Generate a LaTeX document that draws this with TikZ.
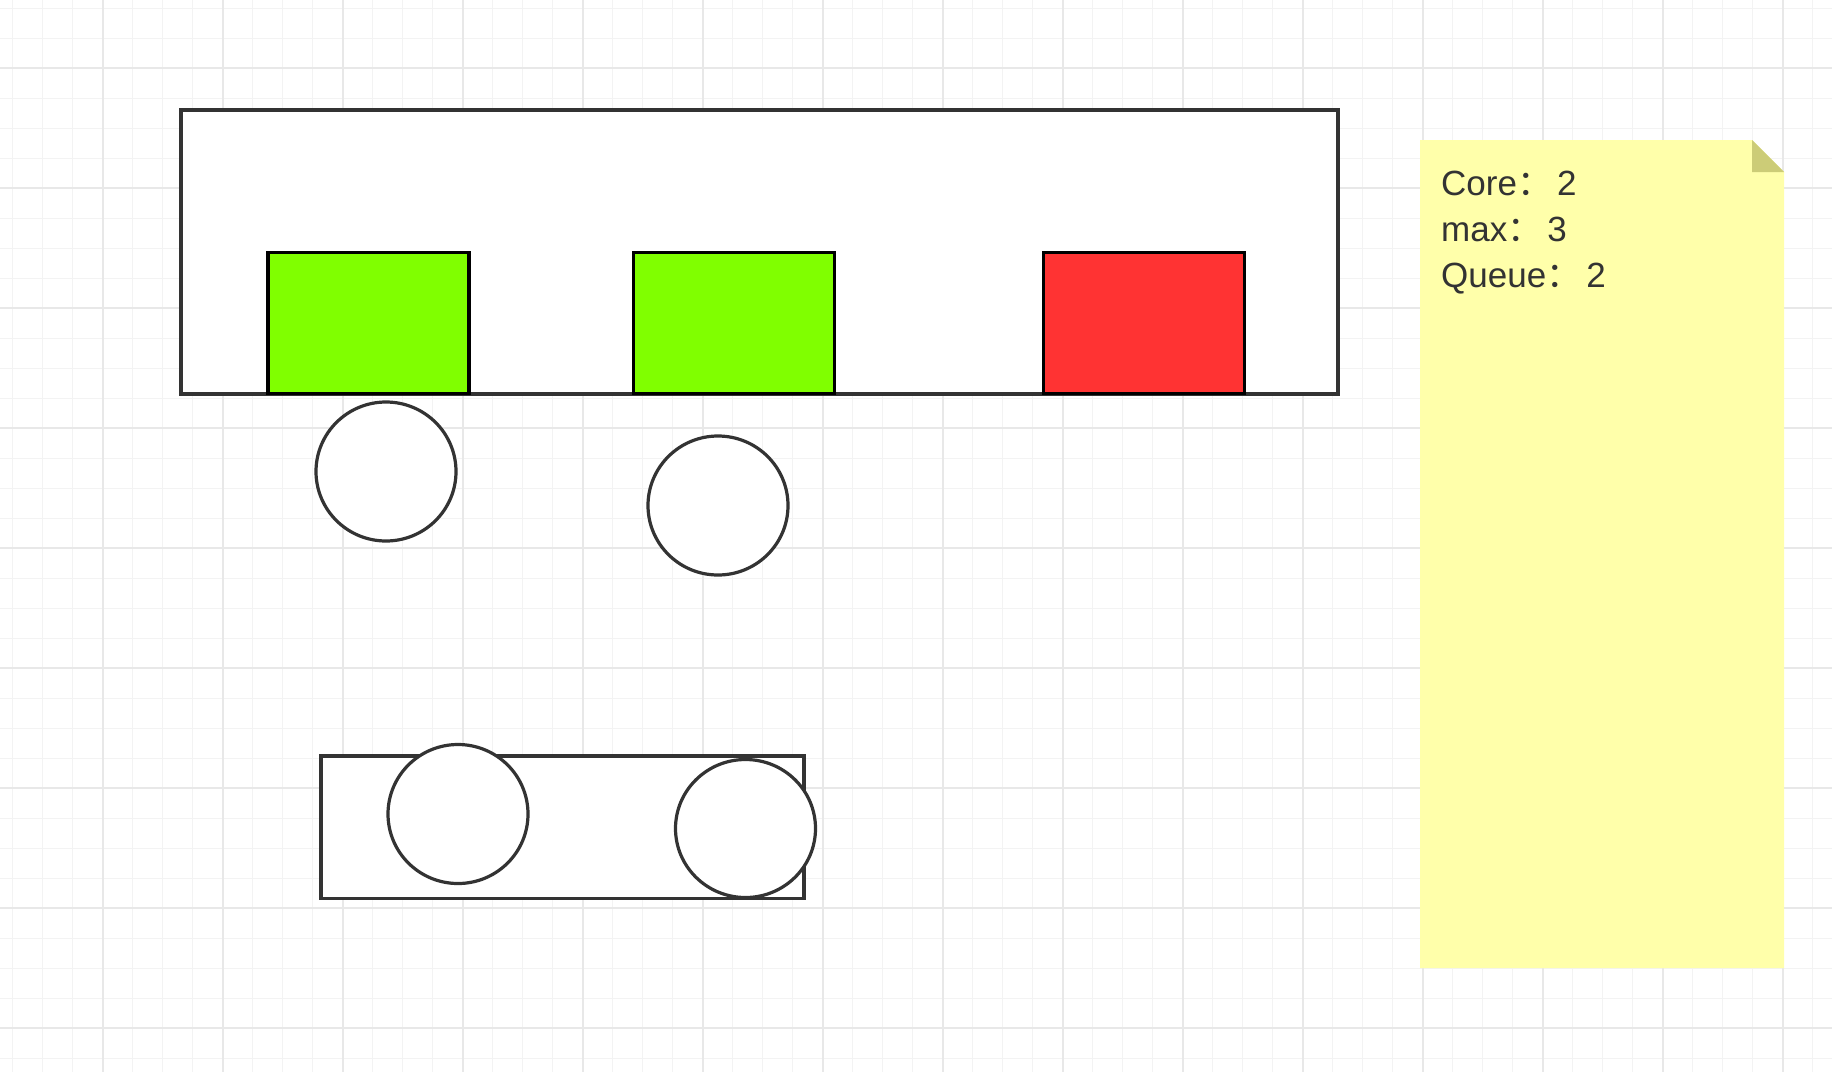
\documentclass[tikz,border=0pt]{standalone}
\usepackage{fontspec}
\usetikzlibrary{shapes.geometric}
\setmainfont{Liberation Sans}
\newfontfamily\cjk{Noto Sans CJK SC}
\definecolor{ink}{HTML}{333333}
\definecolor{gridminor}{HTML}{F3F3F3}
\definecolor{gridmajor}{HTML}{E8E8E8}
\definecolor{greenbox}{HTML}{80FF00}
\definecolor{redbox}{HTML}{FF3333}
\definecolor{notefill}{HTML}{FFFFAA}
\definecolor{notefold}{HTML}{CCCC77}
\tikzset{
  px/.style={x=1pt,y=-1pt},
  outline/.style={draw=ink, line width=3.2pt, fill=white, inner sep=0pt, outer sep=0pt},
  frame/.style={outline, rectangle, anchor=north west},
  slotbox/.style={draw=black, line width=3.2pt, inner sep=0pt, outer sep=0pt, rectangle, anchor=north west, minimum width=201pt, minimum height=141pt},
  task/.style={outline, ellipse, minimum width=140pt, minimum height=139pt},
  notetext/.style={anchor=base west, inner sep=0pt, text=ink, font=\fontsize{35}{46}\selectfont}
}
\begin{document}
\begin{tikzpicture}[px]
\useasboundingbox (0,0) rectangle (1832,1072);
\fill[white] (0,0) rectangle (1832,1072);
% grid
\foreach \i in {0,...,61} {\draw[gridminor, line width=1.5pt] ({12.7+30*\i},0) -- ({12.7+30*\i},1072);}
\foreach \j in {0,...,35} {\draw[gridminor, line width=1.5pt] (0,{8.3+30*\j}) -- (1832,{8.3+30*\j});}
\foreach \i in {0,...,14} {\draw[gridmajor, line width=2pt] ({102.7+120*\i},0) -- ({102.7+120*\i},1072);}
\foreach \j in {0,...,8} {\draw[gridmajor, line width=2pt] (0,{68.3+120*\j}) -- (1832,{68.3+120*\j});}
% pool frame
\node[frame, minimum width=1157pt, minimum height=284pt] (pool) at (181,110) {};
\node[slotbox, fill=greenbox] (slotA) at (268,252.5) {};
\node[slotbox, fill=greenbox] (slotB) at (633.5,252.5) {};
\node[slotbox, fill=redbox] (slotC) at (1043.5,252.5) {};
% running tasks
\node[task] (taskA) at (386,471.5) {};
\node[task] (taskB) at (718,505.5) {};
% queue
\node[frame, minimum width=483pt, minimum height=142.5pt] (queue) at (321,756) {};
\node[task] (qA) at (458,814) {};
\node[task, minimum height=138pt] (qB) at (745.5,828.5) {};
% note
\fill[notefill] (1420,140) -- (1752,140) -- (1784,172) -- (1784,968) -- (1420,968) -- cycle;
\fill[notefold] (1752,140) -- (1784,172) -- (1752,172) -- cycle;
\node[notetext] (core) at (1441,195.7) {Core{\cjk ：}\hspace{5pt}2};
\node[notetext] (maxv) at (1441,241.7) {max{\cjk ：}\hspace{5pt}3};
\node[notetext] (queuev) at (1441,287.3) {Queue{\cjk ：}\hspace{5pt}2};
\end{tikzpicture}
\end{document}
